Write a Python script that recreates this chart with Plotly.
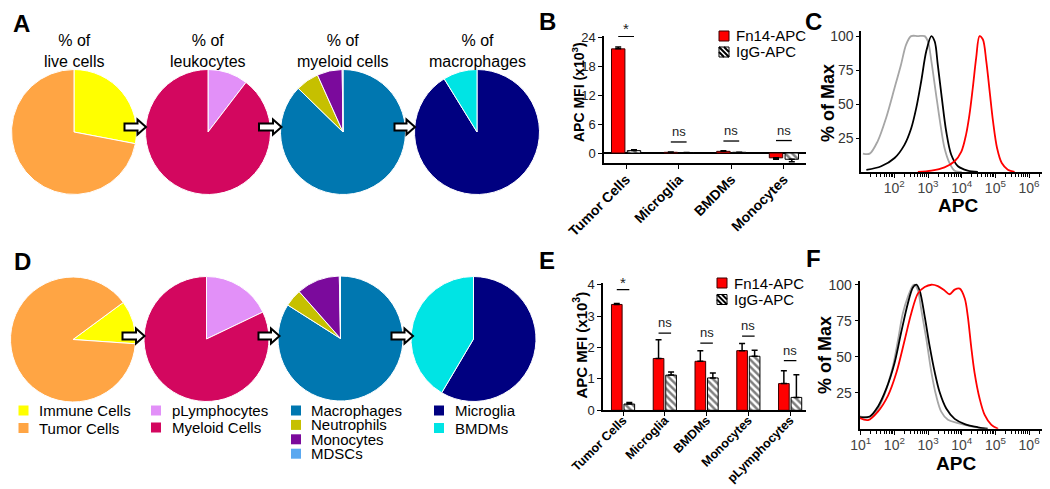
import plotly.graph_objects as go

W, H = 1050, 489
FONT = "Liberation Sans, Arial, sans-serif"

def px(x):
    return x / W

def py(y):
    return 1 - y / H

# ---------------- DATA ----------------
live_labels = ["Immune Cells", "Tumor Cells"]
live_colors = ["#ffff00", "#ffa544"]
live_A = [28.0, 72.0]
live_D = [11.2, 88.8]

leuko_labels = ["pLymphocytes", "Myeloid Cells"]
leuko_colors = ["#e290f8", "#d3075f"]
leuko_A = [10.4, 89.6]
leuko_D = [17.9, 82.1]

myeloid_labels = ["Macrophages", "Neutrophils", "Monocytes", "MDSCs"]
myeloid_colors = ["#0077b0", "#c6c000", "#7b0a9c", "#5aa8f0"]
myeloid_A = [87.3, 6.0, 6.5, 0.2]
myeloid_D = [84.0, 4.5, 11.2, 0.3]

macro_labels = ["Microglia", "BMDMs"]
macro_colors = ["#000080", "#00e4e4"]
macro_A = [91.2, 8.8]
macro_D = [58.5, 41.5]

pie_titles = ["% of<br>live cells", "% of<br>leukocytes", "% of<br>myeloid cells", "% of<br>macrophages"]

series_names = ["Fn14-APC", "IgG-APC"]

b_categories = ["Tumor Cells", "Microglia", "BMDMs", "Monocytes"]
b_fn14 = [21.7, 0.15, 0.35, -1.0]
b_fn14_up = [0.4, 0.05, 0.1, 0.0]
b_fn14_down = [0.0, 0.0, 0.0, 0.3]
b_igg = [0.5, 0.1, 0.15, -1.3]
b_igg_up = [0.2, 0.03, 0.03, 0.0]
b_igg_down = [0.0, 0.0, 0.0, 0.5]
b_sig = ["*", "ns", "ns", "ns"]
b_sig_y = [24.3, 2.3, 2.5, 2.6]

e_categories = ["Tumor Cells", "Microglia", "BMDMs", "Monocytes", "pLymphocytes"]
e_fn14 = [3.37, 1.65, 1.56, 1.90, 0.85]
e_fn14_up = [0.03, 0.60, 0.34, 0.23, 0.41]
e_igg = [0.20, 1.12, 1.03, 1.72, 0.41]
e_igg_up = [0.05, 0.10, 0.16, 0.19, 0.72]
e_sig = ["*", "ns", "ns", "ns", "ns"]
e_sig_y = [3.84, 2.46, 2.14, 2.36, 1.58]

# histogram C (APC value, % of max)
c_gray_x = [11.7, 18.6, 32, 57, 102, 158, 224, 316, 500, 794, 1000, 1259, 1738, 2344, 3090, 4365, 6166, 10000]
c_gray_y = [13.5, 13.5, 22.6, 39.8, 62, 79, 93.8, 100, 100, 100, 96, 81.6, 57, 34.9, 17.7, 6.6, 1, 0]
c_black_x = [14.8, 40.7, 102, 200, 316, 447, 631, 891, 1259, 1585, 1950, 2570, 3467, 4898, 7762, 15136, 30200]
c_black_y = [1.5, 4.2, 10.3, 20, 32, 47, 67, 89, 100, 96, 79, 54.5, 30, 12.7, 4.2, 1, 0]
c_red_x = [501, 1259, 3090, 6166, 9772, 13490, 16982, 21380, 26915, 33884, 42658, 53703, 67608, 85114, 112200, 154880, 234420, 371540]
c_red_y = [0, 1, 3.4, 7.9, 15, 27.5, 42, 62, 84, 100, 97.5, 81.6, 59.5, 37.4, 17.7, 6.6, 1.7, 0]

# histogram F
f_gray_x = [9.3, 16.6, 28.8, 45.7, 64.6, 91.2, 129, 178, 251, 355, 398, 501, 631, 891, 1259, 1738, 2455, 3890, 7762, 19055, 47863]
f_gray_y = [8.5, 7.8, 11.9, 21, 31, 43.7, 62, 80, 91.6, 99.6, 100, 96, 82.5, 62, 39, 23, 11.9, 6.2, 3.9, 1.6, 0]
f_black_x = [9.3, 18.6, 32.4, 57.5, 102, 158, 251, 355, 447, 562, 794, 1122, 1585, 2188, 3467, 6166, 12303, 30200, 58884]
f_black_y = [8, 8.5, 15.3, 27.8, 46, 66.6, 87, 98, 100, 96, 78, 57, 39, 25.6, 14, 6.8, 3.2, 1, 0]
f_red_x = [9.3, 16.6, 32.4, 64.6, 115, 204, 316, 501, 794, 1259, 1950, 3090, 4365, 6166, 8710, 12303, 15136, 19055, 23988, 33884, 47863, 75858, 120226]
f_red_y = [7.4, 6, 11.9, 23, 39, 62, 80, 94, 98.4, 100, 99, 96, 93.4, 96.6, 97.3, 90.5, 78, 57, 39, 21, 9.6, 2.7, 0]

hist_ticks = [10, 100, 1000, 10000, 100000, 1000000]
hist_ticktext = ["10<sup>1</sup>", "10<sup>2</sup>", "10<sup>3</sup>", "10<sup>4</sup>", "10<sup>5</sup>", "10<sup>6</sup>"]

RED = "#ff0000"
GRAY = "#a6a6a6"

fig = go.Figure()

# ---------------- PIES ----------------
pie_sets = [(live_labels, live_colors, live_A, live_D),
            (leuko_labels, leuko_colors, leuko_A, leuko_D),
            (myeloid_labels, myeloid_colors, myeloid_A, myeloid_D),
            (macro_labels, macro_colors, macro_A, macro_D)]
a_centers = [(66, 124), (200, 124), (335, 124), (469, 124)]
d_centers = [(65, 331.5), (198.5, 331), (332.5, 330.5), (465.5, 331)]
d_rot = [53.6, 0, 0, 0]
R = 62.5
for i, (labs, cols, va, vd) in enumerate(pie_sets):
    for vals, (cx, cy), rot in [(va, a_centers[i], 0), (vd, d_centers[i], d_rot[i])]:
        fig.add_trace(go.Pie(
            labels=labs, values=vals, sort=False, direction="clockwise", rotation=rot,
            marker=dict(colors=cols, line=dict(color="white", width=1)),
            textinfo="none", showlegend=False, hoverinfo="label+value", automargin=False,
            domain=dict(x=[px(cx - R), px(cx + R)], y=[py(cy + R), py(cy - R)])))

# ---------------- BARS ----------------
err_style = dict(color="black", thickness=1.5, width=3)
red_marker = dict(color=RED, line=dict(color="#3a0000", width=1))
hatch_marker = dict(color="white", line=dict(color="black", width=1),
                    pattern=dict(shape="\\", fgcolor="black", bgcolor="white", size=5, solidity=0.5))

fig.add_trace(go.Bar(x=b_categories, y=b_fn14, name=series_names[0], marker=red_marker,
                     error_y=dict(type="data", symmetric=False, array=b_fn14_up, arrayminus=b_fn14_down, **err_style),
                     xaxis="x", yaxis="y", showlegend=False))
fig.add_trace(go.Bar(x=b_categories, y=b_igg, name=series_names[1], marker=hatch_marker,
                     error_y=dict(type="data", symmetric=False, array=b_igg_up, arrayminus=b_igg_down, **err_style),
                     xaxis="x", yaxis="y", showlegend=False))
fig.add_trace(go.Bar(x=e_categories, y=e_fn14, name=series_names[0], marker=red_marker,
                     error_y=dict(type="data", symmetric=False, array=e_fn14_up, arrayminus=[0] * 5, **err_style),
                     xaxis="x2", yaxis="y2", showlegend=False))
fig.add_trace(go.Bar(x=e_categories, y=e_igg, name=series_names[1], marker=hatch_marker,
                     error_y=dict(type="data", symmetric=False, array=e_igg_up, arrayminus=[0] * 5, **err_style),
                     xaxis="x2", yaxis="y2", showlegend=False))

# ---------------- HISTOGRAMS ----------------
for xs, ys, col, ax in [(c_gray_x, c_gray_y, GRAY, 3), (c_black_x, c_black_y, "black", 3), (c_red_x, c_red_y, RED, 3),
                        (f_gray_x, f_gray_y, GRAY, 4), (f_black_x, f_black_y, "black", 4), (f_red_x, f_red_y, RED, 4)]:
    fig.add_trace(go.Scatter(x=xs, y=ys, mode="lines", line=dict(color=col, width=1.8, shape="spline", smoothing=0.9),
                             xaxis=f"x{ax}", yaxis=f"y{ax}", showlegend=False, hoverinfo="x+y"))

# ---------------- AXES ----------------
tickf = dict(family=FONT, size=13, color="#222")
bold14 = dict(family=FONT, size=14, color="black", weight="bold")
bold13 = dict(family=FONT, size=12.5, color="black", weight="bold")
common_bar_x = dict(type="category", showline=True, linecolor="black", linewidth=1.5, ticks="outside",
                    ticklen=4, tickcolor="black", tickangle=-45, showgrid=False, zeroline=False,
                    automargin=False)
common_bar_y = dict(showline=True, linecolor="black", linewidth=1.5, ticks="outside", ticklen=4,
                    tickcolor="black", tickfont=tickf, showgrid=False, automargin=False)
hist_x = dict(type="log", showline=True, linecolor="black", linewidth=2, ticks="outside", ticklen=4,
              tickcolor="black", tickvals=hist_ticks, ticktext=hist_ticktext, ticklabelstandoff=-2,
              tickfont=dict(family=FONT, size=14, color="#444"), showgrid=False, zeroline=False,
              automargin=False,
              minor=dict(ticks="outside", ticklen=3, tickcolor="black", dtick="D1", showgrid=False))
hist_y = dict(showline=True, linecolor="black", linewidth=2, ticks="outside", ticklen=3, tickcolor="black",
              tickvals=[25, 50, 75, 100], tickfont=dict(family=FONT, size=14, color="#333"),
              showgrid=False, zeroline=False, automargin=False)

fig.update_layout(
    xaxis=dict(domain=[px(596), px(798)], anchor="y", range=[-0.42, 3.42], tickfont=bold14,
               ticklabelstandoff=-3, **common_bar_x),
    yaxis=dict(domain=[py(155.1), py(27.9)], anchor="x", range=[-2.1, 24.4], tickvals=[0, 6, 12, 18, 24],
               zeroline=True, zerolinecolor="black", zerolinewidth=1.5, **common_bar_y),
    xaxis2=dict(domain=[px(595), px(798)], anchor="y2", range=[-0.48, 4.38], tickfont=bold13,
                ticklabelstandoff=-8, **common_bar_x),
    yaxis2=dict(domain=[py(402.3), py(275.1)], anchor="x2", range=[0, 4.05], tickvals=[0, 1, 2, 3, 4],
                zeroline=False, **common_bar_y),
    xaxis3=dict(domain=[px(853.3), px(1048)], anchor="y3", range=[1.02, 6.80], **hist_x),
    yaxis3=dict(domain=[py(164), py(22.7)], anchor="x3", range=[0, 104], **hist_y),
    xaxis4=dict(domain=[px(851.7), px(1046.7)], anchor="y4", range=[0.97, 6.76], **hist_x),
    yaxis4=dict(domain=[py(420.7), py(272.7)], anchor="x4", range=[0, 102.8], **hist_y),
    barmode="group", bargap=0.4, bargroupgap=0.15,
    width=W, height=H, margin=dict(l=0, r=0, t=0, b=0, autoexpand=False),
    paper_bgcolor="white", plot_bgcolor="white",
    font=dict(family=FONT, color="black"),
)

ann = []
shapes = []

def text(x, y, t, size, bold=False, xanchor="center", yanchor="middle", angle=0, color="black", **kw):
    ann.append(dict(x=x, y=y, xref="paper", yref="paper", text=(f"<b>{t}</b>" if bold else t),
                    showarrow=False, xanchor=xanchor, yanchor=yanchor, textangle=angle,
                    font=dict(family=FONT, size=size, color=color), **kw))

# panel letters
for letter, (lx, ly) in {"A": (13, 15), "D": (14, 253), "B": (539, 13), "E": (539, 252),
                         "C": (805, 13), "F": (805, 251)}.items():
    text(px(lx), py(ly), letter, 24, bold=True)

# pie titles
for (cx, cy), t in zip(a_centers, pie_titles):
    text(px(cx), py(43), t, 16)

# arrows between pies
def arrow(x0, x1, yc):
    xh = x1 - 8.5
    s, h = 3.6, 7.5
    pts = [(x0, yc - s), (xh, yc - s), (xh, yc - h), (x1, yc), (xh, yc + h), (xh, yc + s), (x0, yc + s)]
    path = "M " + " L ".join(f"{px(a):.5f},{py(b):.5f}" for a, b in pts) + " Z"
    shapes.append(dict(type="path", xref="paper", yref="paper", path=path,
                       fillcolor="white", line=dict(color="black", width=2)))

for (x0, x1) in [(116.5, 138), (251, 273.5), (386.5, 407)]:
    arrow(x0, x1, 119)
for (x0, x1) in [(114.5, 136.5), (250.5, 271.5), (383.5, 405)]:
    arrow(x0, x1, 328)

# legends under D row
legend_cols = [(live_labels, live_colors, 10.5, 28.5, 17.5),
               (leuko_labels, leuko_colors, 143, 162, 17),
               (myeloid_labels, myeloid_colors, 283, 301, 14.4),
               (macro_labels, macro_colors, 426, 445, 17.5)]
for labs, cols, sx, tx, step in legend_cols:
    for k, (lab, col) in enumerate(zip(labs, cols)):
        yc = 402.5 + k * step
        shapes.append(dict(type="rect", xref="paper", yref="paper", x0=px(sx), x1=px(sx + 10),
                           y0=py(yc + 5), y1=py(yc - 5), fillcolor=col, line=dict(width=0)))
        text(px(tx), py(yc), lab, 15, xanchor="left")

# bar legends (manual keys)
def hatch_key(x0, yc):
    shapes.append(dict(type="rect", xref="paper", yref="paper", x0=px(x0), x1=px(x0 + 10),
                       y0=py(yc + 5), y1=py(yc - 5), fillcolor="white", line=dict(color="black", width=1)))
    for (a, b) in [((x0, yc - 5), (x0 + 10, yc + 5)), ((x0 + 5, yc - 5), (x0 + 10, yc)), ((x0, yc), (x0 + 5, yc + 5))]:
        shapes.append(dict(type="line", xref="paper", yref="paper", x0=px(a[0]), y0=py(a[1]),
                           x1=px(b[0]), y1=py(b[1]), line=dict(color="black", width=2)))

for (lx, ly1, ly2) in [(711, 28, 44), (709, 275, 291.5)]:
    shapes.append(dict(type="rect", xref="paper", yref="paper", x0=px(lx), x1=px(lx + 10),
                       y0=py(ly1 + 5), y1=py(ly1 - 5), fillcolor=RED, line=dict(color="#3a0000", width=1)))
    hatch_key(lx, ly2)
    text(px(lx + 15), py(ly1), series_names[0], 15, xanchor="left")
    text(px(lx + 15), py(ly2), series_names[1], 15, xanchor="left")

# significance markers
def sig(xa, ya, labels, ys):
    for i, (lab, yv) in enumerate(zip(labels, ys)):
        shapes.append(dict(type="line", xref=xa, yref=ya, x0=i - 0.15, x1=i + 0.15, y0=yv, y1=yv,
                           line=dict(color="black", width=1.3)))
        ann.append(dict(x=i, y=yv, xref=xa, yref=ya, text=lab, showarrow=False, yanchor="bottom",
                        yshift=(-3 if lab == "*" else 1),
                        font=dict(family=FONT, size=(15 if lab == "*" else 13), color="#222")))

sig("x", "y", b_sig, b_sig_y)
sig("x2", "y2", e_sig, e_sig_y)

# axis titles
text(px(570), py(84), "APC MFI (x10<sup>3</sup>)", 14, bold=True, angle=-90)
text(px(571.5), py(337), "APC MFI (x10<sup>3</sup>)", 15, bold=True, angle=-90)
text(px(820), py(95), "% of Max", 18, bold=True, angle=-90)
text(px(817), py(347), "% of Max", 18, bold=True, angle=-90)
text(px(950), py(197), "APC", 19, bold=True)
text(px(948), py(455), "APC", 19, bold=True)

fig.update_layout(annotations=ann, shapes=shapes)
fig.write_html("out.html")
